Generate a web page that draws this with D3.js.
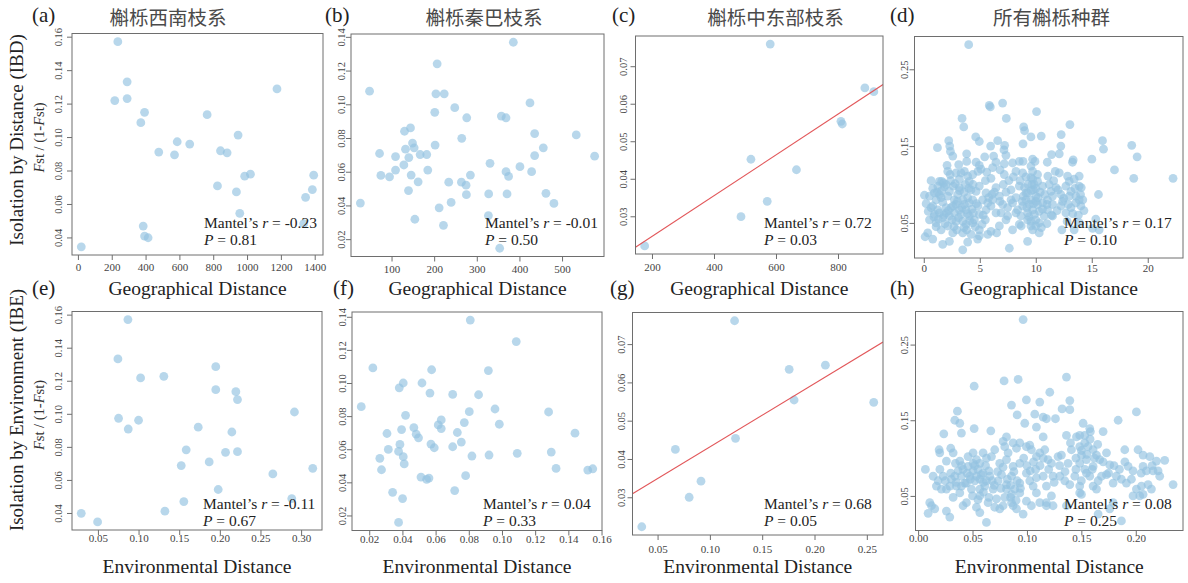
<!DOCTYPE html>
<html>
<head>
<meta charset="utf-8">
<script src="https://cdn.jsdelivr.net/npm/d3@7"></script>
<style>
  body { margin: 0; background: #fff; }
  svg text { font-family: "Liberation Serif", "Times New Roman", serif; }
</style>
</head>
<body>
<div id="chart"></div>
<script>
const width = 1188, height = 583;

// ---- data ----
const panelTags = ["(a)", "(b)", "(c)", "(d)", "(e)", "(f)", "(g)", "(h)"];
const groupTitles = ["槲栎西南枝系", "槲栎秦巴枝系", "槲栎中东部枝系", "所有槲栎种群"];
const rowTitles = ["Isolation by Distance (IBD)", "Isolation by Environment (IBE)"];
const xTitles = ["Geographical Distance", "Environmental Distance"];
const mantelR = ["-0.23", "-0.01", "0.72", "0.17", "-0.11", "0.04", "0.68", "0.08"];
const mantelP = ["0.81", "0.50", "0.03", "0.10", "0.67", "0.33", "0.05", "0.25"];
const fitPanels = [2, 6]; // panels with a regression line

const xTickLabels = [
  ["0", "200", "400", "600", "800", "1000", "1200", "1400"],
  ["100", "200", "300", "400", "500"],
  ["200", "400", "600", "800"],
  ["0", "5", "10", "15", "20"],
  ["0.05", "0.10", "0.15", "0.20", "0.25", "0.30"],
  ["0.02", "0.04", "0.06", "0.08", "0.10", "0.12", "0.14", "0.16"],
  ["0.05", "0.10", "0.15", "0.20", "0.25"],
  ["0.00", "0.05", "0.10", "0.15", "0.20"]
];
const yTickLabels = [
  ["0.04", "0.06", "0.08", "0.10", "0.12", "0.14", "0.16"],
  ["0.02", "0.04", "0.06", "0.08", "0.10", "0.12", "0.14"],
  ["0.03", "0.04", "0.05", "0.06", "0.07"],
  ["0.05", "0.15", "0.25"],
  ["0.04", "0.06", "0.08", "0.10", "0.12", "0.14", "0.16"],
  ["0.02", "0.04", "0.06", "0.08", "0.10", "0.12", "0.14"],
  ["0.03", "0.04", "0.05", "0.06", "0.07"],
  ["0.05", "0.15", "0.25"]
];

// [distance, Fst/(1-Fst)]
const ptsA = [[236,0.157],[291,0.133],[218,0.1218],[291,0.123],[394,0.1148],[372,0.1086],[764,0.1134],[1177,0.1288],
  [587,0.0972],[661,0.0958],[478,0.091],[571,0.0894],[947,0.1012],[843,0.0918],[882,0.0906],[825,0.0708],[937,0.0672],
  [986,0.0766],[1020,0.0778],[1394,0.0772],[1386,0.0686],[1346,0.064],[957,0.0544],[1335,0.0482],[386,0.0468],
  [394,0.0408],[415,0.0398],[20,0.0344]];
const ptsB = [[385.7,0.1368],[207,0.124],[48.5,0.1078],[204.1,0.1062],[223.6,0.1062],[248.3,0.098],[201.4,0.0952],
  [424.8,0.1008],[357.6,0.093],[368.5,0.092],[276.4,0.092],[144.5,0.086],[130.4,0.084],[264.7,0.0798],[435.7,0.0826],
  [533.3,0.0818],[202.2,0.0758],[149.2,0.077],[153.1,0.0742],[132.8,0.0734],[182.6,0.0702],[167.1,0.0702],[140.6,0.0684],
  [109.4,0.069],[71.9,0.0708],[456,0.0742],[435.7,0.0696],[576.4,0.0692],[128.9,0.064],[75,0.0578],[95.3,0.057],
  [109.4,0.061],[146,0.058],[162.4,0.054],[185,0.061],[139.8,0.0488],[234.2,0.0538],[263.9,0.0538],[274.8,0.052],
  [285,0.058],[331,0.065],[368.5,0.06],[374.6,0.0572],[401.2,0.063],[428.6,0.06],[26.9,0.0414],[154.7,0.0318],
  [211.7,0.0386],[239.8,0.0418],[275.6,0.0464],[327.9,0.0468],[370.9,0.0468],[462.2,0.0472],[480.9,0.0412],
  [221.8,0.0282],[327.2,0.034],[353.7,0.0146]];
const ptsC = [[581.4,0.0759],[886.7,0.0642],[915.6,0.0632],[809.5,0.0553],[813.8,0.0546],[519.2,0.0452],[666,0.0424],
  [571.7,0.034],[487.1,0.0299],[176.4,0.0221]];
const ptsD = [[4.01,0.282],[5.85,0.203],[5.94,0.201],[7.04,0.206],[10.07,0.195],[3.42,0.186],[7.37,0.186],[3.57,0.175],
  [13.05,0.178],[8.92,0.175],[9.0,0.170],[1.22,0.148],[2.23,0.157],[2.32,0.150],[4.64,0.162],[4.96,0.156],[6.6,0.157],
  [5.97,0.150],[7.22,0.151],[9.57,0.162],[10.49,0.163],[12.27,0.165],[12.24,0.150],[15.96,0.157],[16.05,0.146],
  [18.57,0.151],[2.38,0.143],[3.83,0.140],[5.44,0.136],[6.24,0.137],[7.16,0.145],[7.34,0.138],[8.86,0.153],[7.93,0.128],
  [8.53,0.130],[8.86,0.130],[9.72,0.133],[9.93,0.130],[11.03,0.129],[11.41,0.139],[12.1,0.140],[13.28,0.129],
  [13.34,0.132],[15.01,0.133],[19.05,0.136],[3.12,0.126],[2.08,0.125],[2.59,0.137],[3.83,0.130],[4.67,0.129],
  [4.96,0.125],[6.45,0.129],[7.19,0.127],[9.57,0.124],[0.65,0.105],[1.6,0.104],[1.75,0.102],[2.14,0.117],[2.35,0.113],
  [2.88,0.115],[3.33,0.115],[3.63,0.117],[3.92,0.111],[4.37,0.113],[4.84,0.117],[5.11,0.120],[5.62,0.116],[6.15,0.122],
  [6.81,0.119],[7.19,0.113],[8.23,0.117],[8.83,0.115],[9.12,0.110],[9.57,0.109],[9.72,0.117],[10.16,0.113],[11.08,0.111],
  [11.74,0.117],[12.1,0.115],[12.84,0.111],[12.99,0.104],[13.43,0.107],[13.88,0.111],[17.03,0.119],[18.75,0.108],
  [22.26,0.108],[0.06,0.086],[0.51,0.085],[0.95,0.089],[1.4,0.087],[1.84,0.097],[2.29,0.091],[2.64,0.098],[3.18,0.096],
  [3.71,0.100],[4.22,0.093],[4.67,0.091],[4.96,0.098],[5.56,0.089],[6.09,0.087],[6.45,0.096],[6.75,0.085],[7.34,0.090],
  [7.79,0.093],[8.53,0.098],[8.89,0.085],[9.27,0.089],[9.66,0.100],[9.78,0.093],[10.01,0.085],[10.61,0.098],[11.35,0.091],
  [11.8,0.096],[12.24,0.087],[12.69,0.098],[13.14,0.091],[13.58,0.085],[13.88,0.098],[14.06,0.096],[15.6,0.087],
  [13.88,0.080],[0.21,0.075],[0.8,0.072],[1.25,0.067],[1.69,0.077],[1.99,0.063],[2.44,0.070],[2.88,0.074],[3.33,0.061],
  [3.77,0.067],[4.07,0.076],[4.43,0.063],[4.84,0.072],[5.26,0.080],[5.56,0.067],[6.0,0.072],[6.45,0.063],[7.04,0.074],
  [7.49,0.070],[7.93,0.076],[8.38,0.067],[8.83,0.072],[9.27,0.063],[9.72,0.067],[10.16,0.074],[10.61,0.076],[11.05,0.067],
  [11.5,0.074],[12.24,0.072],[12.69,0.063],[13.14,0.070],[13.58,0.076],[14.03,0.072],[15.36,0.055],[15.07,0.043],
  [15.66,0.041],[0.51,0.054],[1.1,0.050],[1.69,0.057],[2.14,0.046],[2.53,0.054],[2.94,0.041],[3.48,0.052],[3.83,0.041],
  [4.37,0.050],[4.96,0.041],[5.5,0.054],[6.0,0.039],[6.75,0.046],[7.34,0.054],[7.93,0.041],[8.53,0.048],[9.27,0.054],
  [9.72,0.041],[10.31,0.050],[11.0,0.049],[11.5,0.059],[12.33,0.041],[13.43,0.041],[0.12,0.032],[0.36,0.037],[0.8,0.029],
  [1.69,0.022],[2.29,0.026],[3.48,0.015],[3.92,0.025],[4.81,0.029],[5.71,0.035],[6.51,0.037],[7.64,0.017],[9.27,0.026],
  [9.57,0.046],[10.31,0.037],[1.1,0.080],[1.55,0.083],[2.14,0.085],[2.73,0.080],[3.03,0.087],[3.48,0.080],[3.92,0.083],
  [4.37,0.080],[1.99,0.070],[2.73,0.063],[3.18,0.067],[3.63,0.074],[4.07,0.059],[2.29,0.059],[2.88,0.052],[3.77,0.048],
  [4.52,0.054],[4.96,0.061],[1.4,0.063],[0.95,0.061],[0.65,0.070],[1.55,0.041],[2.59,0.037],[3.48,0.037],[4.22,0.035],
  [4.96,0.033],[1.25,0.098],[1.4,0.104],[3.18,0.107],[4.07,0.104],[9.57,0.080],[10.01,0.078],[9.12,0.080],[9.42,0.074],
  [9.87,0.061],[10.31,0.065],[10.76,0.059],[10.01,0.054],[9.57,0.052],[9.12,0.089],[9.87,0.100],[10.16,0.104],
  [9.72,0.107],[11.05,0.080],[11.5,0.085],[8.23,0.083],[7.79,0.080],[5.71,0.076],[6.15,0.080],[6.9,0.063],[7.49,0.059],
  [8.23,0.063],[8.68,0.059],
  [0.8,0.095],[1.2,0.09],[1.6,0.092],[2.0,0.1],[2.4,0.105],[2.8,0.101],[3.2,0.092],[3.6,0.09],[4.0,0.095],[4.4,0.1],
  [0.4,0.065],[0.9,0.058],[1.3,0.055],[1.8,0.06],[2.2,0.066],[2.6,0.072],[3.0,0.078],[3.4,0.07],[3.9,0.062],[4.3,0.068],
  [4.7,0.075],[1.1,0.045],[1.9,0.049],[2.7,0.045],[3.1,0.057],[3.6,0.044],[4.1,0.053],[4.6,0.045],[5.2,0.048],[5.3,0.06],
  [5.8,0.083],[6.3,0.09],[6.8,0.078],[7.1,0.1],[7.6,0.105],[8.0,0.11],[5.5,0.105],[6.0,0.108],
  [8.6,0.105],[9.0,0.096],[9.3,0.1],[9.6,0.092],[10.0,0.095],[10.4,0.09],[10.8,0.087],[11.2,0.1],[11.6,0.105],[12.0,0.093],
  [12.5,0.082],[13.0,0.085],[13.5,0.095],[14.0,0.087],[8.8,0.078],[9.2,0.07],[9.8,0.075],[10.2,0.083],[10.6,0.068],
  [11.0,0.074],[11.4,0.06],[11.9,0.066],[12.4,0.078],[12.9,0.074],[13.3,0.062],[13.8,0.06],[14.2,0.08],[9.4,0.058],
  [10.0,0.046],[10.5,0.044],[8.7,0.046],[12.8,0.052],[13.9,0.05],[14.3,0.066]];

// [environmental distance, Fst/(1-Fst)]
const ptsE = [[0.0869,0.157],[0.0746,0.1332],[0.1025,0.1217],[0.1311,0.1227],[0.195,0.1285],[0.195,0.1146],[0.2197,0.1134],
  [0.2217,0.1086],[0.0754,0.0973],[0.0873,0.0908],[0.1,0.0961],[0.1734,0.0919],[0.2148,0.089],[0.1586,0.0782],
  [0.207,0.0767],[0.2217,0.0771],[0.1525,0.0687],[0.1869,0.0709],[0.2918,0.1011],[0.3143,0.067],[0.2652,0.0636],
  [0.198,0.0542],[0.2885,0.0487],[0.1557,0.0469],[0.1324,0.0411],[0.0295,0.0398],[0.0496,0.0346]];
const ptsF = [[0.0809,0.138],[0.1086,0.125],[0.0222,0.1091],[0.0576,0.108],[0.0918,0.1075],[0.0405,0.1],[0.0381,0.0971],
  [0.0518,0.1],[0.0566,0.0939],[0.0703,0.0931],[0.0859,0.0929],[0.0958,0.0843],[0.1281,0.0825],[0.0803,0.0827],
  [0.0152,0.0857],[0.0419,0.0805],[0.0634,0.0777],[0.0984,0.0751],[0.0773,0.0761],[0.0616,0.0747],[0.0634,0.0725],
  [0.0469,0.0731],[0.0395,0.0719],[0.0483,0.0691],[0.0497,0.0669],[0.0731,0.0701],[0.0755,0.0643],[0.144,0.0697],
  [0.0307,0.0695],[0.0385,0.0629],[0.0572,0.0631],[0.0592,0.0609],[0.0703,0.0615],[0.0315,0.0599],[0.0377,0.0587],
  [0.0405,0.0555],[0.0411,0.0511],[0.0264,0.0545],[0.0274,0.0476],[0.0819,0.0559],[0.0922,0.0565],[0.1092,0.0575],
  [0.1297,0.0583],[0.1326,0.0484],[0.1517,0.0474],[0.1547,0.0482],[0.0512,0.0432],[0.0546,0.0418],[0.056,0.0426],
  [0.0781,0.044],[0.0341,0.034],[0.0401,0.0302],[0.0715,0.035],[0.0377,0.0158]];
const ptsG = [[0.1236,0.0761],[0.1758,0.0634],[0.2104,0.0645],[0.1805,0.0554],[0.2566,0.0548],[0.1245,0.0454],
  [0.067,0.0425],[0.0915,0.0342],[0.0802,0.03],[0.0349,0.0223]];
const ptsH = [[0.0965,0.283],[0.0515,0.195],[0.079,0.202],[0.0919,0.204],[0.1363,0.207],[0.0995,0.177],[0.121,0.187],
  [0.1118,0.174],[0.0858,0.170],[0.1394,0.176],[0.1394,0.164],[0.1323,0.165],[0.2006,0.161],[0.0361,0.162],[0.0337,0.150],
  [0.0383,0.146],[0.0398,0.133],[0.0236,0.132],[0.0515,0.139],[0.0668,0.136],[0.091,0.157],[0.098,0.146],[0.1072,0.158],
  [0.1149,0.154],[0.1179,0.152],[0.1262,0.152],[0.1087,0.141],[0.1149,0.128],[0.1363,0.130],[0.1516,0.146],[0.1531,0.130],
  [0.1485,0.130],[0.1583,0.135],[0.17,0.135],[0.1838,0.150],[0.1577,0.139],[0.1455,0.128],[0.0193,0.111],[0.0199,0.107],
  [0.03,0.113],[0.0322,0.107],[0.026,0.096],[0.0343,0.093],[0.0383,0.096],[0.0459,0.102],[0.0505,0.107],[0.0536,0.098],
  [0.0567,0.093],[0.0597,0.107],[0.0628,0.100],[0.0674,0.102],[0.0704,0.111],[0.0781,0.122],[0.0796,0.115],[0.0812,0.128],
  [0.0827,0.107],[0.0873,0.120],[0.0904,0.113],[0.0934,0.120],[0.0995,0.115],[0.1026,0.117],[0.1041,0.111],[0.1087,0.102],
  [0.1118,0.107],[0.1164,0.111],[0.1194,0.098],[0.1225,0.093],[0.1286,0.102],[0.1317,0.104],[0.1378,0.093],[0.1409,0.111],
  [0.1485,0.115],[0.1501,0.104],[0.1531,0.120],[0.1562,0.115],[0.1608,0.111],[0.1639,0.104],[0.1669,0.098],[0.1731,0.107],
  [0.1761,0.091],[0.1899,0.111],[0.2021,0.111],[0.2067,0.104],[0.2129,0.102],[0.219,0.096],[0.2266,0.097],[0.193,0.089],
  [0.1975,0.083],[0.2067,0.089],[0.2098,0.083],[0.2159,0.083],[0.2205,0.083],[0.0067,0.085],[0.0138,0.076],[0.0184,0.070],
  [0.023,0.076],[0.026,0.059],[0.0306,0.072],[0.0352,0.063],[0.0398,0.076],[0.0429,0.067],[0.0475,0.076],[0.0505,0.083],
  [0.0521,0.070],[0.0567,0.072],[0.0613,0.063],[0.0659,0.076],[0.0689,0.059],[0.0735,0.070],[0.0766,0.078],[0.0812,0.065],
  [0.0858,0.076],[0.0888,0.059],[0.0934,0.067],[0.0995,0.080],[0.1026,0.070],[0.1057,0.063],[0.1087,0.074],[0.1149,0.076],
  [0.1179,0.063],[0.1225,0.050],[0.124,0.076],[0.1302,0.076],[0.1348,0.070],[0.1394,0.065],[0.144,0.076],[0.1485,0.063],
  [0.1501,0.052],[0.1547,0.080],[0.1577,0.076],[0.1608,0.063],[0.1654,0.070],[0.1685,0.076],[0.1731,0.078],[0.1792,0.067],
  [0.1822,0.076],[0.1868,0.072],[0.1914,0.067],[0.196,0.072],[0.2006,0.059],[0.2052,0.063],[0.2113,0.065],[0.2144,0.059],
  [0.222,0.076],[0.2343,0.065],[0.0383,0.054],[0.0322,0.048],[0.0444,0.041],[0.0567,0.050],[0.0643,0.041],[0.072,0.046],
  [0.0796,0.048],[0.0858,0.052],[0.0934,0.054],[0.0995,0.043],[0.1087,0.054],[0.1118,0.041],[0.1179,0.037],[0.1485,0.054],
  [0.1639,0.059],[0.1792,0.041],[0.1975,0.050],[0.2037,0.050],[0.2067,0.052],[0.0107,0.041],[0.0123,0.037],[0.0092,0.027],
  [0.0153,0.033],[0.026,0.030],[0.0291,0.022],[0.0413,0.037],[0.0536,0.035],[0.0567,0.028],[0.0628,0.015],[0.0704,0.035],
  [0.075,0.033],[0.0873,0.037],[0.0904,0.033],[0.0965,0.026],[0.1041,0.037],[0.1179,0.041],[0.124,0.037],[0.1654,0.026],
  [0.1761,0.033],[0.1868,0.017],[0.1363,0.037],[0.0413,0.085],[0.0459,0.089],[0.0505,0.093],[0.0536,0.076],[0.0444,0.067],
  [0.049,0.059],[0.0597,0.080],[0.0567,0.059],[0.0628,0.070],[0.0368,0.083],[0.0337,0.076],[0.0398,0.063],[0.0291,0.063],
  [0.0214,0.059],[0.0168,0.063],[0.075,0.093],[0.0812,0.098],[0.0873,0.089],[0.0934,0.093],[0.0812,0.059],[0.0858,0.041],
  [0.0781,0.037],[0.1485,0.093],[0.1547,0.098],[0.1531,0.085],[0.1608,0.089],
  [0.02,0.085],[0.025,0.07],[0.03,0.08],[0.035,0.068],[0.04,0.09],[0.045,0.08],[0.048,0.072],[0.052,0.09],[0.055,0.085],
  [0.058,0.078],[0.06,0.068],[0.062,0.09],[0.065,0.083],[0.068,0.07],[0.07,0.064],[0.073,0.082],[0.076,0.06],[0.078,0.088],
  [0.082,0.072],[0.085,0.064],[0.088,0.082],[0.091,0.07],[0.094,0.06],[0.097,0.1],[0.1,0.09],[0.103,0.083],[0.106,0.095],
  [0.108,0.085],[0.112,0.09],[0.115,0.1],[0.05,0.05],[0.055,0.045],[0.06,0.055],[0.065,0.048],[0.085,0.048],[0.09,0.044],
  [0.14,0.12],[0.145,0.1],[0.15,0.11],[0.155,0.105],[0.158,0.125],[0.162,0.1],[0.165,0.118],[0.17,0.095],[0.16,0.085],
  [0.145,0.085],[0.15,0.07],[0.175,0.08],[0.18,0.09],[0.185,0.085],[0.19,0.095],[0.205,0.08],[0.215,0.09],[0.12,0.085],
  [0.125,0.068],[0.13,0.09],[0.135,0.082]];

const panelPts = [ptsA, ptsB, ptsC, ptsD, ptsE, ptsF, ptsG, ptsH];

// ---- layout ----
const frames = [
  {x0: 72, x1: 323, y0: 33.5, y1: 255},
  {x0: 351, x1: 604, y0: 34, y1: 256.5},
  {x0: 635.5, x1: 883, y0: 36, y1: 254},
  {x0: 914.5, x1: 1183, y0: 36.5, y1: 258},
  {x0: 72, x1: 322, y0: 311.5, y1: 530},
  {x0: 352, x1: 602, y0: 312, y1: 530.5},
  {x0: 632.5, x1: 883, y0: 312.5, y1: 535},
  {x0: 915.5, x1: 1183, y0: 311.5, y1: 530.5}
];
const xLabOffset = [16, 16, 17, 14, 12, 12.5, 18, 11.5];
const yLabOffset = [10, 6, 8.5, 7, 10, 6, 8, 8];
const tagX = [32, 325, 612, 890, 32, 333, 610, 890];
const tagY = [21.5, 295];
const titleX = [168, 484, 775.5, 1051.5];
const mantelY = [227.5, 508.5];
const pY = [244.5, 526.3];

const svg = d3.select("#chart")
  .append("svg")
  .attr("width", width)
  .attr("height", height);

// R style 4% padding on both ends
function padded(ext) {
  const d = (ext[1] - ext[0]) * 0.04;
  return [ext[0] - d, ext[1] + d];
}

panelPts.forEach((pts, i) => {
  const f = frames[i];
  const row = i < 4 ? 0 : 1;
  const x = d3.scaleLinear().domain(padded(d3.extent(pts, d => d[0]))).range([f.x0, f.x1]);
  const y = d3.scaleLinear().domain(padded(d3.extent(pts, d => d[1]))).range([f.y1, f.y0]);

  const g = svg.append("g").attr("class", "panel");

  g.append("clipPath").attr("id", "clip" + i)
    .append("rect")
    .attr("x", f.x0).attr("y", f.y0)
    .attr("width", f.x1 - f.x0).attr("height", f.y1 - f.y0);

  g.append("g")
    .selectAll("circle")
    .data(pts)
    .join("circle")
    .attr("cx", d => x(d[0]))
    .attr("cy", d => y(d[1]))
    .attr("r", 4.4)
    .attr("fill", "#93c3e0")
    .attr("fill-opacity", 0.66);

  // least squares line, drawn across the whole plot like abline()
  if (fitPanels.includes(i)) {
    const mx = d3.mean(pts, d => d[0]), my = d3.mean(pts, d => d[1]);
    const slope = d3.sum(pts, d => (d[0] - mx) * (d[1] - my)) / d3.sum(pts, d => (d[0] - mx) ** 2);
    const icpt = my - slope * mx;
    const [a, b] = x.domain();
    g.append("line")
      .attr("clip-path", "url(#clip" + i + ")")
      .attr("x1", x(a)).attr("y1", y(icpt + slope * a))
      .attr("x2", x(b)).attr("y2", y(icpt + slope * b))
      .attr("stroke", "#e2575a")
      .attr("stroke-width", 1.1);
  }

  // frame
  g.append("rect")
    .attr("x", f.x0).attr("y", f.y0)
    .attr("width", f.x1 - f.x0).attr("height", f.y1 - f.y0)
    .attr("fill", "none")
    .attr("stroke", "#6e6e6e")
    .attr("stroke-width", 1);

  // x axis
  const xl = xTickLabels[i];
  const xAxis = g.append("g")
    .attr("transform", `translate(0,${f.y1})`)
    .call(d3.axisBottom(x).tickValues(xl.map(Number)).tickFormat((d, j) => xl[j]).tickSize(5).tickSizeOuter(0));
  xAxis.select(".domain").remove();
  xAxis.selectAll("line").attr("stroke", "#6e6e6e");
  xAxis.selectAll("text")
    .attr("y", xLabOffset[i]).attr("dy", 0)
    .attr("fill", "#444")
    .style("font-size", "11px")
    .style("font-family", "'Liberation Serif', serif");

  // y axis, labels parallel to axis like R
  const yl = yTickLabels[i];
  const yAxis = g.append("g")
    .attr("transform", `translate(${f.x0},0)`)
    .call(d3.axisLeft(y).tickValues(yl.map(Number)).tickFormat((d, j) => yl[j]).tickSize(5).tickSizeOuter(0));
  yAxis.select(".domain").remove();
  yAxis.selectAll("line").attr("stroke", "#6e6e6e");
  yAxis.selectAll("text")
    .attr("transform", "rotate(-90)")
    .attr("x", 0).attr("y", -yLabOffset[i]).attr("dy", 0)
    .attr("text-anchor", "middle")
    .attr("fill", "#444")
    .style("font-size", "10.5px")
    .style("font-family", "'Liberation Serif', serif");

  // panel tag
  svg.append("text")
    .attr("x", tagX[i]).attr("y", tagY[row])
    .attr("fill", "#222")
    .style("font-size", "21px")
    .text(panelTags[i]);

  // x title
  svg.append("text")
    .attr("x", (f.x0 + f.x1) / 2).attr("y", row === 0 ? 295 : 573)
    .attr("text-anchor", "middle")
    .attr("fill", "#222")
    .style("font-size", "19.5px")
    .text(xTitles[row]);

  // Mantel statistics
  const mt = svg.append("text")
    .attr("x", f.x1 - 119).attr("y", mantelY[row])
    .attr("fill", "#222")
    .style("font-size", "15.5px");
  mt.append("tspan").text("Mantel\u2019s ");
  mt.append("tspan").style("font-style", "italic").text("r");
  mt.append("tspan").text(" = " + mantelR[i]);

  const pt = svg.append("text")
    .attr("x", f.x1 - 119).attr("y", pY[row])
    .attr("fill", "#222")
    .style("font-size", "15.5px");
  pt.append("tspan").style("font-style", "italic").text("P");
  pt.append("tspan").text(" = " + mantelP[i]);
});

// chinese group titles
groupTitles.forEach((t, i) => {
  svg.append("text")
    .attr("x", titleX[i]).attr("y", 25)
    .attr("text-anchor", "middle")
    .attr("fill", "#4a4a4a")
    .style("font-family", "'Noto Sans CJK SC', sans-serif")
    .style("font-size", "19.5px")
    .text(t);
});

// row titles on the left
[140, 410].forEach((cy, r) => {
  svg.append("text")
    .attr("transform", `translate(23,${cy}) rotate(-90)`)
    .attr("text-anchor", "middle")
    .attr("fill", "#222")
    .style("font-size", "19px")
    .text(rowTitles[r]);
});
[137.5, 415].forEach(cy => {
  const t = svg.append("text")
    .attr("transform", `translate(44,${cy}) rotate(-90)`)
    .attr("text-anchor", "middle")
    .attr("fill", "#333")
    .style("font-size", "14.5px");
  t.append("tspan").style("font-style", "italic").text("F");
  t.append("tspan").text("st / (1-");
  t.append("tspan").style("font-style", "italic").text("F");
  t.append("tspan").text("st)");
});
</script>
</body>
</html>
